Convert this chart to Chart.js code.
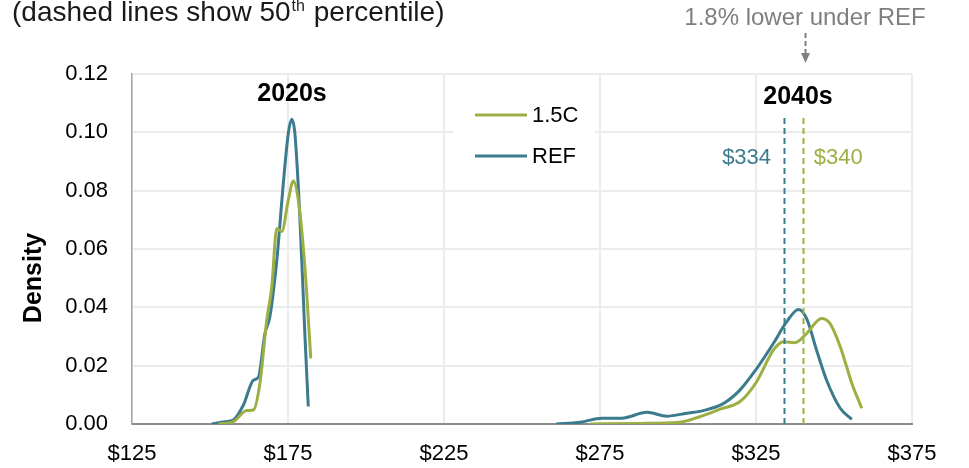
<!DOCTYPE html>
<html>
<head>
<meta charset="utf-8">
<script src="https://cdn.jsdelivr.net/npm/chart.js@4.4.1/dist/chart.umd.min.js"></script>
<style>
  html, body { margin: 0; padding: 0; background: #ffffff; }
  #wrap { width: 969px; height: 468px; position: relative; }
</style>
</head>
<body>
<div id="wrap"><canvas id="chart" width="969" height="468"></canvas></div>
<script>
// Price distributions (kernel density) for the two scenarios, 2020s and 2040s
const ref2020Price   = [150.5, 154.8, 157.5, 160.7, 163.9, 165.5, 167.6, 169.2, 171.4, 173.5, 175.1, 176.2, 177.2, 178.8, 180.4, 181.5];
const ref2020Density = [0.0000, 0.0008, 0.0014, 0.0065, 0.0150, 0.0160, 0.0310, 0.0368, 0.0560, 0.0825, 0.0997, 0.1045, 0.0997, 0.0710, 0.0310, 0.0060];

const c15_2020Price   = [152.7, 157.5, 161.8, 163.9, 166.0, 168.2, 169.8, 171.4, 173.0, 175.1, 176.7, 178.3, 180.4, 182.3];
const c15_2020Density = [0.0000, 0.0008, 0.0046, 0.0048, 0.0140, 0.0357, 0.0470, 0.0670, 0.0660, 0.0768, 0.0833, 0.0768, 0.0540, 0.0225];

const ref2040Price   = [261.0, 268.6, 275.5, 282.0, 290.0, 296.4, 302.8, 308.1, 314.5, 319.9, 325.2, 330.6, 334.8, 338.6, 341.2, 344.4, 347.6, 352.0, 355.7];
const ref2040Density = [0.0000, 0.0006, 0.0020, 0.0020, 0.0040, 0.0027, 0.0037, 0.0046, 0.0070, 0.0117, 0.0190, 0.0277, 0.0350, 0.0393, 0.0362, 0.0254, 0.0151, 0.0054, 0.0016];

const c15_2040Price   = [272.0, 287.8, 300.6, 307.0, 313.5, 319.9, 325.2, 330.6, 333.8, 337.5, 341.2, 346.0, 348.7, 352.0, 355.7, 358.9];
const c15_2040Density = [0.0000, 0.0002, 0.0006, 0.0025, 0.0051, 0.0077, 0.0145, 0.0254, 0.0282, 0.0279, 0.0310, 0.0362, 0.0345, 0.0265, 0.0140, 0.0054];

// 50th percentile of the 2040s distributions
const seriesNames = ['1.5C', 'REF'];
const medians2040 = { 'REF': 334, '1.5C': 340 };

// Axis ticks
const xTicks = [125, 175, 225, 275, 325, 375];
const yTicks = [0, 0.02, 0.04, 0.06, 0.08, 0.10, 0.12];

const COLORS = { '1.5C': '#9caf42', 'REF': '#3b7b8d' };
const FONT = '"Liberation Sans", Arial, sans-serif';

function pts(xs, ys) { return xs.map((x, i) => ({ x: x, y: ys[i] })); }

function lineSet(label, data) {
  return {
    label: label,
    data: data,
    borderColor: COLORS[label],
    backgroundColor: COLORS[label],
    borderWidth: 3,
    pointRadius: 0,
    fill: false,
    cubicInterpolationMode: 'monotone',
    showLine: true
  };
}

const annotations = {
  id: 'annotations',
  beforeDatasetsDraw(chart) {
    // white legend panel sits over the gridlines
    const ctx = chart.ctx;
    ctx.save();
    ctx.fillStyle = '#ffffff';
    ctx.fillRect(453, 96, 142, 78);
    ctx.restore();
  },
  afterDatasetsDraw(chart) {
    const ctx = chart.ctx;
    const xs = chart.scales.x, ys = chart.scales.y;
    ctx.save();

    // subtitle with superscript
    ctx.fillStyle = '#1a1a1a';
    ctx.textBaseline = 'alphabetic';
    ctx.textAlign = 'left';
    ctx.font = '28px ' + FONT;
    let tx = 12;
    const part1 = '(dashed lines show 50';
    ctx.fillText(part1, tx, 21);
    tx += ctx.measureText(part1).width;
    ctx.font = '16px ' + FONT;
    ctx.fillText('th', tx + 1, 11);
    tx += ctx.measureText('th').width + 2;
    ctx.font = '28px ' + FONT;
    ctx.fillText(' percentile)', tx, 21);

    // difference note and arrow
    ctx.fillStyle = '#7f7f7f';
    ctx.textAlign = 'center';
    ctx.font = '24px ' + FONT;
    ctx.fillText('1.8% lower under REF', 805, 25);
    ctx.strokeStyle = '#7f7f7f';
    ctx.lineWidth = 2;
    ctx.setLineDash([5, 3]);
    ctx.beginPath();
    ctx.moveTo(805.5, 33);
    ctx.lineTo(805.5, 54);
    ctx.stroke();
    ctx.setLineDash([]);
    ctx.beginPath();
    ctx.moveTo(801, 53);
    ctx.lineTo(810, 53);
    ctx.lineTo(805.5, 63);
    ctx.closePath();
    ctx.fill();

    // decade labels
    ctx.fillStyle = '#000000';
    ctx.font = 'bold 25px ' + FONT;
    ctx.textBaseline = 'middle';
    ctx.fillText('2020s', 292, 94);
    ctx.fillText('2040s', 798, 97);

    // median lines
    ctx.lineWidth = 2;
    ctx.setLineDash([6, 4]);
    seriesNames.forEach(name => {
      const px = Math.round(xs.getPixelForValue(medians2040[name])) + 0.5;
      ctx.strokeStyle = COLORS[name];
      ctx.beginPath();
      ctx.moveTo(px, 118);
      ctx.lineTo(px, ys.getPixelForValue(0));
      ctx.stroke();
    });
    ctx.setLineDash([]);

    // median labels
    ctx.font = '22px ' + FONT;
    ctx.textBaseline = 'middle';
    ctx.fillStyle = COLORS['REF'];
    ctx.textAlign = 'right';
    ctx.fillText('$' + medians2040['REF'], xs.getPixelForValue(medians2040['REF']) - 13, 158);
    ctx.fillStyle = COLORS['1.5C'];
    ctx.textAlign = 'left';
    ctx.fillText('$' + medians2040['1.5C'], xs.getPixelForValue(medians2040['1.5C']) + 11, 158);

    // legend
    ctx.lineWidth = 3;
    ctx.font = '22px ' + FONT;
    ctx.textAlign = 'left';
    const rows = [['1.5C', 115], ['REF', 156]];
    rows.forEach(([name, y]) => {
      ctx.strokeStyle = COLORS[name];
      ctx.beginPath();
      ctx.moveTo(475, y);
      ctx.lineTo(527, y);
      ctx.stroke();
      ctx.fillStyle = '#000000';
      ctx.fillText(name, 532, y + 1);
    });

    // y-axis title
    ctx.translate(34, 278);
    ctx.rotate(-Math.PI / 2);
    ctx.textAlign = 'center';
    ctx.font = 'bold 25px ' + FONT;
    ctx.fillStyle = '#000000';
    ctx.fillText('Density', 0, 0);

    ctx.restore();
  }
};

new Chart(document.getElementById('chart'), {
  type: 'scatter',
  data: {
    datasets: [
      lineSet('1.5C', pts(c15_2020Price, c15_2020Density)),
      lineSet('REF', pts(ref2020Price, ref2020Density)),
      lineSet('1.5C', pts(c15_2040Price, c15_2040Density)),
      lineSet('REF', pts(ref2040Price, ref2040Density))
    ]
  },
  options: {
    responsive: false,
    animation: false,
    layout: { padding: { left: 0, right: 57, top: 74, bottom: 0 } },
    plugins: { legend: { display: false }, tooltip: { enabled: false } },
    scales: {
      x: {
        type: 'linear',
        min: xTicks[0],
        max: xTicks[xTicks.length - 1],
        afterBuildTicks(scale) { scale.ticks = xTicks.map(v => ({ value: v })); },
        afterFit(scale) { scale.height = 44; },
        ticks: {
          padding: 17,
          color: '#000000',
          font: { family: FONT, size: 22 },
          maxRotation: 0,
          callback: v => '$' + v
        },
        grid: { color: '#ececec', lineWidth: 2, drawTicks: false },
        border: { color: '#8c8c8c', width: 2 }
      },
      y: {
        min: yTicks[0],
        max: yTicks[yTicks.length - 1],
        afterBuildTicks(scale) { scale.ticks = yTicks.map(v => ({ value: v })); },
        afterFit(scale) { scale.width = 132; },
        ticks: {
          padding: 24,
          color: '#000000',
          font: { family: FONT, size: 22 },
          callback: v => Number(v).toFixed(2)
        },
        grid: { color: '#ececec', lineWidth: 2, drawTicks: false },
        border: { color: '#a6a6a6', width: 1.5 }
      }
    }
  },
  plugins: [annotations]
});
</script>
</body>
</html>
